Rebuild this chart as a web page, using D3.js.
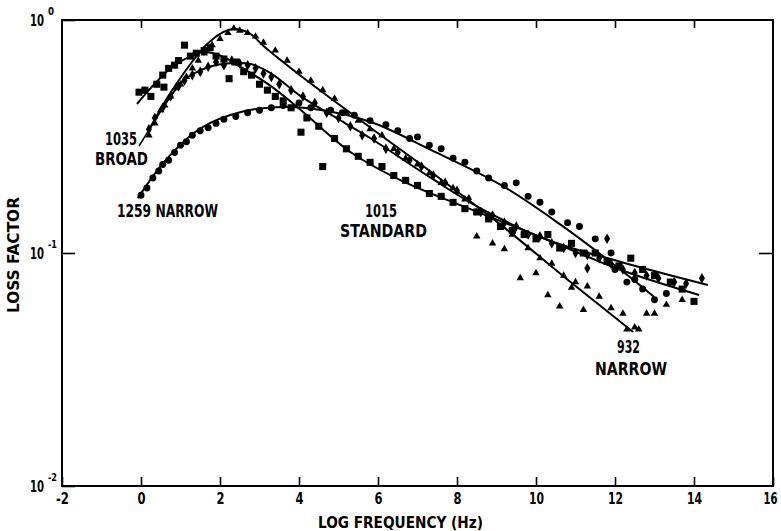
<!DOCTYPE html>
<html><head><meta charset="utf-8">
<script src="https://cdn.jsdelivr.net/npm/d3@7"></script>
<style>
html,body{margin:0;padding:0;background:#fff;}
svg{display:block;}
</style></head>
<body>
<svg id="chart" width="781" height="531"></svg>
<script>
// ---------- data ----------
const xTicks = [-2, 0, 2, 4, 6, 8, 10, 12, 14, 16];
const yTicks = [1, 0.1, 0.01];
const yTickExp = ["0", "-1", "-2"];
const xTitle = "LOG FREQUENCY (Hz)";
const yTitle = "LOSS FACTOR";

// fitted curves (log frequency, loss factor)
const curve1259X = [-0.08, 0.63, 1.52, 2.53, 3.62, 4.56, 5.82, 7.34, 9.11, 10.63, 12.15, 12.99];
const curve1259Y = [0.172, 0.251, 0.344, 0.403, 0.423, 0.411, 0.365, 0.277, 0.196, 0.132, 0.0845, 0.0648];
const curve932X = [0.2, 0.63, 1.14, 1.65, 2.08, 2.35, 2.73, 3.16, 4.05, 5.82, 7.34, 9.11, 10.81, 12.46];
const curve932Y = [0.337, 0.454, 0.610, 0.781, 0.888, 0.915, 0.880, 0.758, 0.575, 0.344, 0.223, 0.132, 0.0766, 0.0458];
const curve1015X = [-0.10, 0.25, 0.76, 1.27, 1.59, 2.03, 2.53, 3.29, 4.05, 5.32, 6.58, 8.10, 10.30, 12.15, 14.13];
const curve1015Y = [0.436, 0.511, 0.622, 0.701, 0.729, 0.701, 0.628, 0.52, 0.41, 0.27, 0.205, 0.16, 0.1137, 0.0845, 0.066];
const curve1035X = [0.2, 0.63, 1.09, 1.52, 1.90, 2.33, 2.78, 3.29, 4.05, 5.06, 5.82, 7.34, 8.61, 10.30, 12.15, 14.35];
const curve1035Y = [0.337, 0.440, 0.553, 0.610, 0.641, 0.654, 0.647, 0.59, 0.47, 0.37, 0.31, 0.21, 0.155, 0.1137, 0.0915, 0.0729];

// measured points
const circleX = [0.0,0.15,0.3,0.45,0.55,0.7,0.85,1.0,1.15,1.3,1.5,1.7,1.9,2.1,2.4,2.7,3.0,3.3,3.6,4.0,4.3,4.8,5.1,5.4,5.8,6.2,6.5,6.8,7.0,7.3,7.6,7.9,8.2,8.5,8.8,9.2,9.5,9.8,10.1,10.4,10.8,11.1,11.5,11.9,12.0,12.3,12.5,12.7,13.0,13.3];
const circleY = [0.177,0.19,0.21,0.225,0.24,0.25,0.27,0.29,0.30,0.32,0.335,0.345,0.36,0.375,0.385,0.40,0.41,0.42,0.43,0.44,0.42,0.41,0.40,0.39,0.37,0.355,0.335,0.31,0.315,0.29,0.28,0.255,0.245,0.225,0.21,0.195,0.20,0.175,0.165,0.15,0.135,0.13,0.115,0.10,0.085,0.075,0.077,0.07,0.063,0.067];
const triangleX = [0.2,0.35,0.5,0.6,0.75,0.9,1.0,1.15,1.3,1.45,1.6,1.8,2.0,2.2,2.35,2.5,2.7,2.9,3.1,3.4,3.7,4.0,4.3,4.6,4.9,5.2,5.5,5.8,6.1,6.4,6.7,7.0,7.3,7.6,7.9,8.2,8.5,8.8,9.1,9.4,9.8,10.1,10.4,10.7,11.0,11.3,11.6,11.9,12.2,12.5,8.5,8.9,9.2,9.6,10.0,10.3,10.6,10.9,11.2,12.3,12.6,12.8,13.0,13.3,13.7];
const triangleY = [0.32,0.36,0.41,0.43,0.47,0.51,0.53,0.57,0.62,0.67,0.72,0.78,0.83,0.88,0.92,0.90,0.88,0.85,0.80,0.74,0.67,0.60,0.55,0.50,0.46,0.40,0.37,0.34,0.32,0.28,0.255,0.24,0.22,0.20,0.19,0.17,0.15,0.145,0.13,0.12,0.105,0.095,0.09,0.08,0.075,0.072,0.065,0.058,0.055,0.048,0.118,0.11,0.104,0.078,0.082,0.066,0.059,0.071,0.057,0.047,0.047,0.055,0.055,0.06,0.063];
const squareX = [-0.05,0.1,0.25,0.4,0.55,0.58,0.7,0.85,0.95,1.1,1.25,1.4,1.6,1.75,1.9,2.1,2.23,2.4,2.6,2.8,3.0,3.2,3.4,3.6,3.8,4.05,4.2,4.6,4.5,4.9,5.2,5.5,5.8,6.1,6.4,6.7,7.0,7.3,7.6,7.9,8.2,8.5,8.8,9.1,9.4,9.7,10.0,10.3,10.6,10.9,11.2,11.5,11.8,12.1,12.4,12.7,13.0,13.4,13.7,14.0];
const squareY = [0.49,0.50,0.47,0.53,0.58,0.515,0.62,0.64,0.67,0.78,0.70,0.72,0.74,0.76,0.70,0.68,0.56,0.66,0.60,0.58,0.53,0.50,0.47,0.45,0.42,0.33,0.38,0.235,0.35,0.31,0.28,0.26,0.245,0.235,0.215,0.205,0.195,0.18,0.175,0.165,0.155,0.15,0.14,0.13,0.125,0.12,0.115,0.12,0.105,0.11,0.10,0.10,0.092,0.088,0.095,0.085,0.08,0.075,0.07,0.062];
const diamondX = [0.2,0.35,0.55,0.75,0.95,1.1,1.3,1.5,1.7,1.9,2.1,2.3,2.5,2.7,2.9,3.1,3.3,3.5,3.8,4.1,4.4,4.7,5.0,5.3,5.6,5.9,6.2,6.5,6.8,7.1,7.4,7.7,8.0,8.3,8.6,8.9,9.2,9.5,9.8,10.1,10.4,10.7,11.0,11.3,11.6,11.9,12.2,12.5,12.8,13.1,13.5,13.8,14.2,11.8,11.3];
const diamondY = [0.34,0.38,0.42,0.47,0.52,0.55,0.58,0.60,0.63,0.66,0.64,0.67,0.65,0.64,0.62,0.59,0.57,0.53,0.50,0.47,0.44,0.40,0.38,0.35,0.32,0.31,0.28,0.27,0.25,0.235,0.215,0.20,0.185,0.17,0.15,0.145,0.135,0.13,0.12,0.118,0.11,0.105,0.10,0.098,0.095,0.09,0.085,0.082,0.08,0.078,0.075,0.074,0.078,0.115,0.086];

// annotations
const annoText = ["1035", "BROAD", "1259 NARROW", "1015", "STANDARD", "932", "NARROW"];

// ---------- drawing ----------
const M = {left: 62, right: 773, top: 20, bottom: 486};
const FONT = "'Liberation Sans Narrow','Arial Narrow','DejaVu Sans Condensed',sans-serif";
const svg = d3.select("#chart");

// squeeze a text to a width (condensed look)
function fit(sel, w) {
  sel.attr("textLength", w).attr("lengthAdjust", "spacingAndGlyphs");
  return sel;
}
function charW(s) {
  let w = 0;
  for (const c of s) w += (c === "-" ? 5 : c === "1" ? 7 : 8);
  return w;
}

const x = d3.scaleLinear().domain([-2, 16]).range([M.left, M.right]);
const y = d3.scaleLog().domain([0.01, 1]).range([M.bottom, M.top]);

// frame
svg.append("rect").attr("x", M.left).attr("y", M.top)
  .attr("width", M.right - M.left).attr("height", M.bottom - M.top)
  .attr("fill", "none").attr("stroke", "#000").attr("stroke-width", 2);

// bottom axis
const gx = svg.append("g").attr("transform", `translate(0,${M.bottom})`)
  .call(d3.axisBottom(x).tickValues(xTicks).tickSize(-9).tickPadding(7).tickFormat(d3.format("d")));
gx.select(".domain").remove();
gx.selectAll("line").attr("stroke-width", 1.6);
gx.selectAll("text").attr("font-family", FONT).attr("font-weight", "bold").attr("font-size", 15).attr("fill", "#000")
  .text(d => d < 0 ? "-" + Math.abs(d) : String(d))
  .attr("x", d => d === 16 ? -3 : 0)
  .each(function(d) { fit(d3.select(this), charW(d < 0 ? "-" + Math.abs(d) : String(d)) - (d === 16 ? 1 : 0)); });

// top ticks
const gt = svg.append("g").attr("transform", `translate(0,${M.top})`)
  .call(d3.axisTop(x).tickValues(xTicks.slice(1, -1)).tickSize(-8).tickFormat(""));
gt.select(".domain").remove();
gt.selectAll("line").attr("stroke-width", 1.6);

// left axis
const gy = svg.append("g").attr("transform", `translate(${M.left},0)`)
  .call(d3.axisLeft(y).tickValues(yTicks).tickSize(-13).tickPadding(16).tickFormat(""));
gy.select(".domain").remove();
gy.selectAll("line").attr("stroke-width", 1.6);
gy.selectAll(".tick").each(function(d, i) {
  const t = d3.select(this).select("text");
  t.attr("font-family", FONT).attr("font-weight", "bold").attr("font-size", 15).attr("fill", "#000")
    .attr("x", -18).attr("dy", "0.38em").attr("text-anchor", "end");
  t.text("10");
  fit(t, 14);
  const sup = d3.select(this).append("text")
    .attr("x", -14).attr("y", -6).attr("text-anchor", "start")
    .attr("font-family", FONT).attr("font-weight", "bold").attr("font-size", 10).attr("fill", "#000")
    .text(yTickExp[i]);
  fit(sup, yTickExp[i].length > 1 ? 9 : 6);
});

// right tick
const gr = svg.append("g").attr("transform", `translate(${M.right},0)`)
  .call(d3.axisRight(y).tickValues([0.1]).tickSize(-14).tickFormat(""));
gr.select(".domain").remove();
gr.selectAll("line").attr("stroke-width", 1.6);

// titles
fit(svg.append("text").attr("x", 318).attr("y", 528).attr("text-anchor", "start")
  .attr("font-family", FONT).attr("font-weight", "bold").attr("font-size", 16)
  .text(xTitle), 165);
fit(svg.append("text").attr("transform", "translate(19,313) rotate(-90)").attr("text-anchor", "start")
  .attr("font-family", FONT).attr("font-weight", "bold").attr("font-size", 16)
  .text(yTitle), 116);

// curves
const line = d3.line().x(d => x(d[0])).y(d => y(d[1])).curve(d3.curveCatmullRom.alpha(0.5));
const curves = [
  [curve1259X, curve1259Y], [curve932X, curve932Y], [curve1015X, curve1015Y], [curve1035X, curve1035Y]
];
const gc = svg.append("g");
curves.forEach(([cx, cy]) => {
  gc.append("path").datum(cx.map((v, i) => [v, cy[i]]))
    .attr("d", line).attr("fill", "none").attr("stroke", "#000").attr("stroke-width", 2);
});

// markers
const series = [
  {xs: circleX, ys: circleY, type: d3.symbolCircle, size: 38},
  {xs: triangleX, ys: triangleY, type: d3.symbolTriangle, size: 24},
  {xs: squareX, ys: squareY, type: d3.symbolSquare, size: 50},
  {xs: diamondX, ys: diamondY, type: d3.symbolDiamond, size: 32}
];
const gm = svg.append("g");
series.forEach(s => {
  const sym = d3.symbol().type(s.type).size(s.size);
  gm.selectAll(null).data(s.xs.map((v, i) => [v, s.ys[i]])).enter()
    .append("path").attr("d", sym)
    .attr("transform", d => `translate(${x(d[0])},${y(d[1])})`)
    .attr("fill", "#000");
});

// annotations: [text index, left x, baseline y, width]
const annoPos = [[0, 105, 145, 32], [1, 95, 165, 53], [2, 117, 217, 101], [3, 365, 217, 32],
                 [4, 340, 237, 87], [5, 617, 353, 23], [6, 595, 375, 72]];
const ga = svg.append("g").attr("font-family", FONT).attr("font-weight", "bold").attr("font-size", 17).attr("fill", "#000");
annoPos.forEach(([k, ax, ay, w]) => {
  fit(ga.append("text").attr("x", ax).attr("y", ay).attr("text-anchor", "start").text(annoText[k]), w);
});
// leader for 1035
svg.append("line").attr("x1", 139).attr("y1", 146).attr("x2", x(0.2)).attr("y2", y(0.337))
  .attr("stroke", "#000").attr("stroke-width", 1.5);
</script>
</body></html>
